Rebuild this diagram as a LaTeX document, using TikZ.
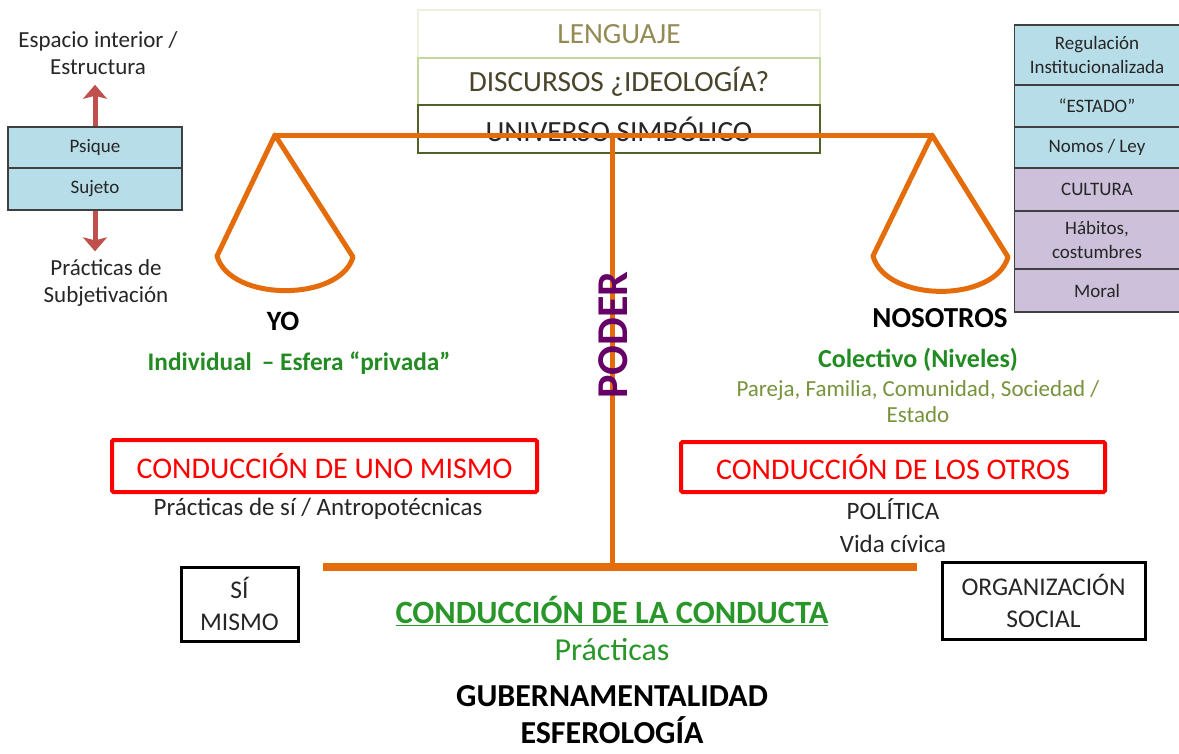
\documentclass[tikz,border=0pt]{standalone}
\usepackage{fontspec}
\setmainfont{Carlito}
\usetikzlibrary{arrows.meta}
\definecolor{orng}{RGB}{228,108,10}
\definecolor{cellblue}{RGB}{183,221,232}
\definecolor{cellpurple}{RGB}{204,192,218}
\definecolor{arrowred}{RGB}{192,80,77}
\definecolor{dgreen}{RGB}{34,139,34}
\definecolor{bgreen}{RGB}{40,150,40}
\definecolor{olivetxt}{RGB}{148,138,84}
\definecolor{dolive}{RGB}{74,69,42}
\definecolor{paleg}{RGB}{235,241,222}
\definecolor{lightg}{RGB}{195,214,155}
\definecolor{boxolive}{RGB}{79,98,40}
\definecolor{sage}{RGB}{119,147,60}
\definecolor{purp}{RGB}{102,0,102}
\definecolor{txtgray}{RGB}{38,38,38}
\tikzset{
  txt/.style={inner sep=0pt, align=center, text=txtgray, font=\fontsize{23}{27}\selectfont},
  cell/.style={draw=black!75, line width=1.2pt, minimum width=165pt, inner sep=0pt, align=center,
    font=\fontsize{19}{24}\selectfont, text=txtgray},
  topbox/.style={minimum width=402pt, minimum height=47pt, line width=1.5pt, inner sep=0pt,
    font=\fontsize{29.3}{34}\selectfont},
  redbox/.style={draw=red, line width=4pt, rounded corners=1.5pt, text=red, inner sep=0pt,
    font=\fontsize{30}{34}\selectfont},
  blkbox/.style={draw=black, line width=3pt, inner sep=0pt, align=center,
    font=\fontsize{25.5}{32}\selectfont, text=txtgray},
  beam/.style={draw=orng, line width=5pt, line cap=round, line join=round},
  redarrow/.style={draw=arrowred, line width=5pt, -{Stealth[length=14pt,width=24pt,inset=3pt]}},
  boldlbl/.style={inner sep=0pt, align=center, font=\bfseries\fontsize{28}{32}\selectfont},
}
\begin{document}
\begin{tikzpicture}[x=1pt,y=-1pt]
\useasboundingbox[fill=white] (0,0) rectangle (1179,753);

% top boxes
\node[topbox, draw=paleg, text=olivetxt, minimum height=48pt] (leng) at (619,34) {LENGUAJE};
\node[topbox, draw=lightg, text=dolive] (disc) at (619,81.5) {DISCURSOS ¿IDEOLOGÍA?};
\node[topbox, draw=boxolive, text=txtgray, minimum height=48pt] (univ) at (619,129) {UNIVERSO SIMBÓLICO};

% balance
\coordinate (lapex) at (275,135);
\coordinate (rapex) at (932,135);
\coordinate (pivot) at (612,135);
\coordinate (base) at (612,567);
\coordinate (bl) at (323,567);
\coordinate (br) at (917,567);
\coordinate (lpl) at (217,256);
\coordinate (lpr) at (353,257);
\coordinate (rpl) at (873,256);
\coordinate (rpr) at (1008,257);
\draw[beam] (lapex) -- (rapex);
\draw[beam] (lpl) -- (lapex) -- (lpr) .. controls (340,302) and (230,302) .. (lpl);
\draw[beam] (rpl) -- (rapex) -- (rpr) .. controls (995,303) and (886,303) .. (rpl);
\draw[beam] (pivot) -- (base);
\draw[draw=orng, line width=8pt] (bl) -- (br);

\node[rotate=90, text=purp, font=\bfseries\fontsize{44}{50}\selectfont, inner sep=0pt] (poder) at (613,335) {PODER};

% left stack
\node[cell, fill=cellblue, minimum width=174pt, minimum height=41pt] (psique) at (95,147.5) {Psique};
\node[cell, fill=cellblue, minimum width=174pt, minimum height=42pt] (sujeto) at (95,189) {Sujeto};
\node[txt] (espacio) at (98,53) {Espacio interior /\\Estructura};
\node[txt] (pract) at (106,283) {Prácticas de\\Subjetivación};
\draw[redarrow] (psique.north) -- (psique.north |- espacio.south) [shorten >=10pt];
\draw[redarrow] (sujeto.south) -- (sujeto.south |- pract.north) [shorten >=8pt];

% right stack
\node[cell, fill=cellblue, minimum height=60pt] (reg) at (1097,55) {Regulación\\Institucionalizada};
\node[cell, fill=cellblue, minimum height=42pt] (estado) at (1097,106) {“ESTADO”};
\node[cell, fill=cellblue, minimum height=41pt] (nomos) at (1097,147.5) {Nomos / Ley};
\node[cell, fill=cellpurple, minimum height=43pt] (cultura) at (1097,189.5) {CULTURA};
\node[cell, fill=cellpurple, minimum height=58pt] (habitos) at (1097,240) {Hábitos,\\costumbres};
\node[cell, fill=cellpurple, minimum height=43pt] (moral) at (1097,290.5) {Moral};

% labels
\node[boldlbl] (yo) at (283,321) {YO};
\node[boldlbl, font=\bfseries\fontsize{29}{32}\selectfont] (nos) at (940,318) {NOSOTROS};
\node[boldlbl, text=dgreen, font=\bfseries\fontsize{25.3}{28}\selectfont] (indiv) at (299,363) {Individual \,– Esfera “privada”};
\node[boldlbl, text=dgreen, font=\bfseries\fontsize{26}{28}\selectfont] (colect) at (918,360) {Colectivo (Niveles)};
\node[txt, text=sage, font=\fontsize{23}{26}\selectfont] (pareja) at (918,402) {Pareja, Familia, Comunidad, Sociedad /\\Estado};

% red boxes
\node[redbox, minimum width=425pt, minimum height=52pt] (uno) at (324.5,466) {CONDUCCIÓN DE UNO MISMO};
\node[redbox, minimum width=424pt, minimum height=50pt] (otros) at (893,467) {CONDUCCIÓN DE LOS OTROS};
\node[txt, font=\fontsize{25}{30}\selectfont] (antro) at (318,509) {Prácticas de sí / Antropotécnicas};
\node[txt, font=\fontsize{25}{33}\selectfont] (polit) at (893,525.5) {POLÍTICA\\Vida cívica};

% bottom boxes
\node[blkbox, minimum width=117pt, minimum height=74pt] (simismo) at (239.5,604) {SÍ\\MISMO};
\node[blkbox, minimum width=203pt, minimum height=77pt] (org) at (1043.5,600.5) {ORGANIZACIÓN\\SOCIAL};

% bottom texts
\node[inner sep=0pt, text=bgreen, font=\bfseries\fontsize{32.5}{36}\selectfont] (cc) at (612,611) {\underline{CONDUCCIÓN DE LA CONDUCTA}};
\node[inner sep=0pt, text=bgreen, font=\fontsize{32}{36}\selectfont] (practicas) at (612,650) {Prácticas};
\node[boldlbl, text=black, font=\bfseries\fontsize{32}{37}\selectfont] (guber) at (612,715) {GUBERNAMENTALIDAD\\ESFEROLOGÍA};
\end{tikzpicture}
\end{document}
